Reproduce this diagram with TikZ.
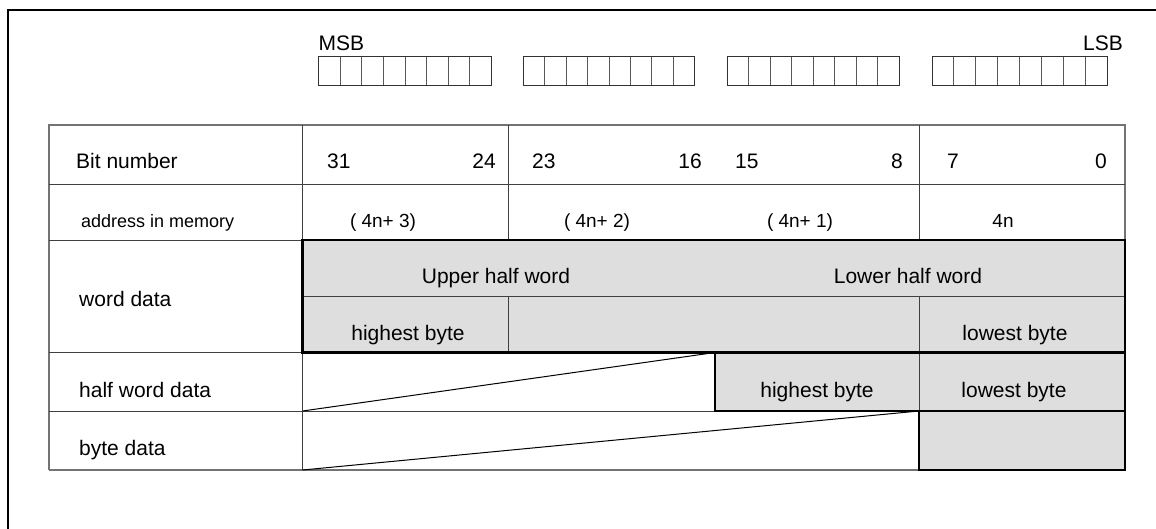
\documentclass[tikz,border=0pt]{standalone}
\usepackage{fontspec}
\setmainfont{Liberation Sans}
\definecolor{cellgray}{RGB}{222,222,222}
\begin{document}
\begin{tikzpicture}[x=1pt,y=-1pt,
  gridline/.style={draw=black!75,line width=1pt},
  rimline/.style={draw=black!55,line width=1.4pt},
  heavyline/.style={draw=black,line width=2.2pt},
  grayfill/.style={fill=cellgray},
  bitcell/.style={draw=black!80,line width=0.9pt},
  lbl/.style={inner sep=0pt,font=\fontsize{21}{25}\selectfont},
  addr/.style={inner sep=0pt,font=\fontsize{19}{23}\selectfont},
  small/.style={inner sep=0pt,font=\fontsize{18}{22}\selectfont}]
\clip (0,0) rectangle (1156,528);
\useasboundingbox (0,0) rectangle (1156,528);

% outer frame
\draw[line width=2.6pt] (8,10) rectangle (1175,545);

% register bytes, MSB ... LSB
\foreach \l/\r in {318.5/491.5, 523.5/694.5, 727/899, 932/1107}{
  \draw[bitcell] (\l,56.5) rectangle (\r,85);
  \foreach \k in {1,...,7}
    \draw[bitcell,draw=black!65] ({\l+\k*(\r-\l)/8},56.5) -- ({\l+\k*(\r-\l)/8},85);
}
\node[lbl,anchor=base west] (msb) at (318.5,50.7) {MSB};
\node[lbl,anchor=base east] (lsb) at (1123,50.7) {LSB};

% shaded data areas
\fill[grayfill] (302.5,240) rectangle (1125,352.5);
\fill[grayfill] (715,352.5) rectangle (1125,411);
\fill[grayfill] (919,411) rectangle (1125,470);

% table grid
\draw[rimline] (49,470) -- (49,125) -- (1125,125) -- (1125,240);
\draw[rimline] (49,470) -- (919,470);
\draw[gridline] (49,184.5) -- (1125,184.5);
\draw[gridline] (49,240) -- (302.5,240);
\draw[gridline] (49,352.5) -- (302.5,352.5);
\draw[gridline] (49,411) -- (919,411);
\draw[gridline] (302.5,125) -- (302.5,470);
\draw[gridline] (508,125) -- (508,240);
\draw[gridline] (919,125) -- (919,240);
\draw[gridline] (302.5,296.5) -- (1125,296.5);
\draw[gridline] (508,296.5) -- (508,352.5);
\draw[gridline] (919,296.5) -- (919,411);

% outlines of the data areas
\draw[heavyline] (302.5,240) rectangle (1125,352.5);
\draw[heavyline] (715,352.5) rectangle (1125,411);
\draw[heavyline] (919,411) rectangle (1125,470);

% slanted lines: unused bytes
\draw[line width=1pt] (302.5,411) -- (715,352.5);
\draw[line width=1pt] (302.5,470) -- (919,411);

% row labels
\node[lbl,anchor=base west] (bitnum) at (76,168) {Bit number};
\node[small,anchor=base west] (addrlbl) at (81,227) {address in memory};
\node[lbl,anchor=base west] (wordlbl) at (79,306) {word data};
\node[lbl,anchor=base west] (hwlbl) at (79,397) {half word data};
\node[lbl,anchor=base west] (bytelbl) at (79,455) {byte data};

% bit numbers
\node[lbl,anchor=base west] (b31) at (327,168) {31};
\node[lbl,anchor=base east] (b24) at (496,168) {24};
\node[lbl,anchor=base west] (b23) at (532,168) {23};
\node[lbl,anchor=base east] (b16) at (702,168) {16};
\node[lbl,anchor=base west] (b15) at (735,168) {15};
\node[lbl,anchor=base east] (b8) at (903,168) {8};
\node[lbl,anchor=base west] (b7) at (947,168) {7};
\node[lbl,anchor=base east] (b0) at (1107,168) {0};

% addresses
\node[addr,anchor=base] (a3) at (383,227) {( 4n+ 3)};
\node[addr,anchor=base] (a2) at (597,227) {( 4n+ 2)};
\node[addr,anchor=base] (a1) at (800,227) {( 4n+ 1)};
\node[addr,anchor=base] (a0) at (1003,227) {4n};

% word data
\node[lbl,anchor=base] (upperhw) at (496,283) {Upper half word};
\node[lbl,anchor=base] (lowerhw) at (908,283) {Lower half word};
\node[lbl,anchor=base] (whi) at (408,340) {highest byte};
\node[lbl,anchor=base] (wlo) at (1015,340) {lowest byte};

% half word data
\node[lbl,anchor=base] (hhi) at (817,397) {highest byte};
\node[lbl,anchor=base] (hlo) at (1014,397) {lowest byte};
\end{tikzpicture}
\end{document}
